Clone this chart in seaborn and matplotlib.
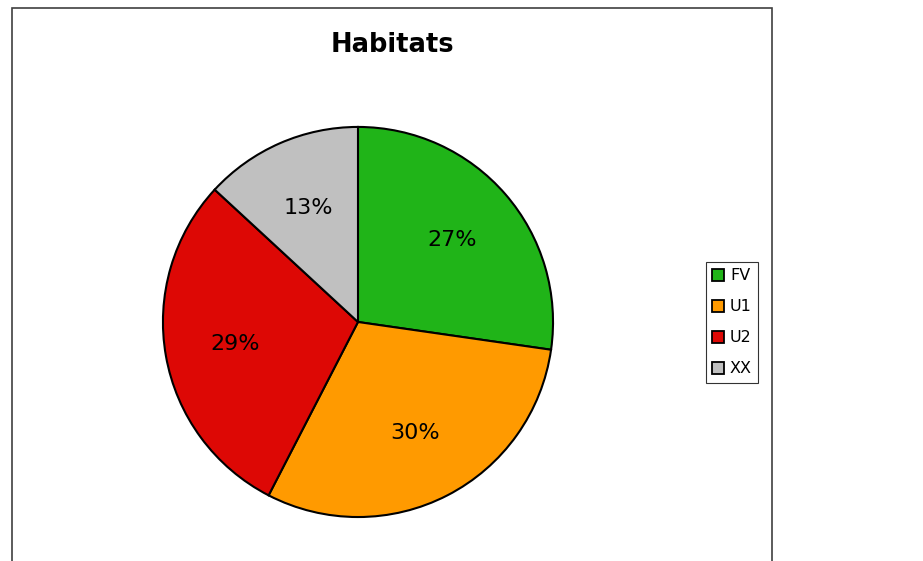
import matplotlib
matplotlib.use("Agg")
import matplotlib.pyplot as plt
from matplotlib.patches import Rectangle
import seaborn as sns

# данные
categories = ["FV", "U1", "U2", "XX"]
values = [27, 30, 29, 13]
colors = ["#20b418", "#ff9a00", "#dd0805", "#c0c0c0"]

sns.set_theme(style="white")
plt.rcParams["font.family"] = ["DejaVu Sans"]
plt.rcParams["text.color"] = "black"

fig = plt.figure(figsize=(9.23, 5.61), dpi=100)
fig.patch.set_facecolor("white")

# рамка графика (низ обрезан)
frame = Rectangle((12 / 923, -0.02), 760 / 923, (561 - 8) / 561 + 0.02,
                  transform=fig.transFigure, fill=False,
                  edgecolor="#404040", linewidth=1.2)
fig.add_artist(frame)

ax = fig.add_axes([0.1744, 0.0749, 0.4269, 0.7023])
wedges, texts, autotexts = ax.pie(
    values, colors=colors, startangle=90, counterclock=False,
    autopct="%.0f%%", pctdistance=0.64,
    wedgeprops=dict(edgecolor="black", linewidth=1.5),
    textprops=dict(fontsize=16, color="black"),
)
ax.set_xlim(-1.01, 1.01)
ax.set_ylim(-1.01, 1.01)
ax.set_aspect("equal")
ax.axis("off")

fig.text(392 / 923, 1 - 45 / 561, "Habitats", ha="center", va="center",
         fontsize=18.5, fontweight="bold", color="black")

# легенда
leg = fig.legend(wedges, categories, loc="upper left",
                 bbox_to_anchor=(706 / 923, 1 - 262 / 561),
                 fontsize=11.5, frameon=True, fancybox=False,
                 handlelength=0.75, handleheight=0.75, handletextpad=0.35,
                 labelspacing=1.0, borderpad=0.4, borderaxespad=0)
leg.get_frame().set_edgecolor("black")
leg.get_frame().set_linewidth(0.8)
for h in leg.legend_handles:
    h.set_linewidth(1.3)
    h.set_edgecolor("black")
for t in leg.get_texts():
    t.set_color("black")

fig.savefig("out.png", dpi=100)
